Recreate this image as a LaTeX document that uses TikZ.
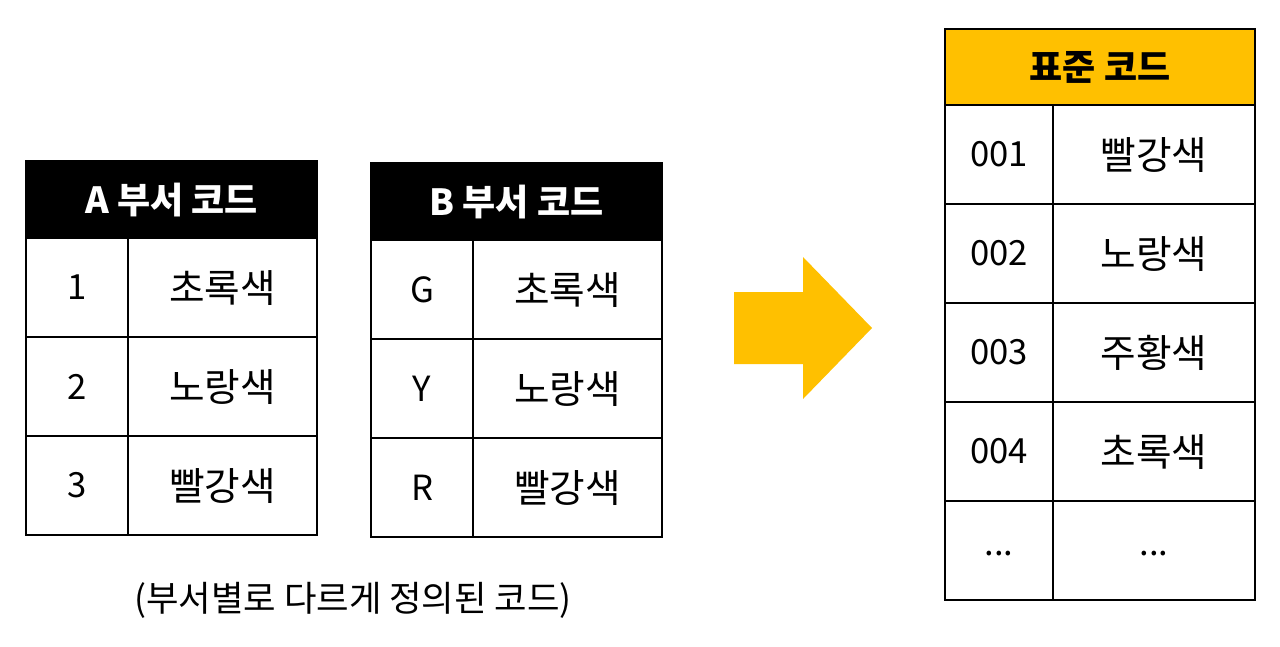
\documentclass[tikz,border=0pt]{standalone}
\usepackage{fontspec}
\setmainfont{Noto Sans CJK KR}
\definecolor{stdyellow}{HTML}{FFC000}
\begin{document}
\begin{tikzpicture}[x=0.75pt,y=-0.75pt]
\tikzstyle{cell}=[draw,line width=1.6pt,inner sep=0pt,anchor=north west,minimum height=74.25pt,font=\fontsize{26}{30}\selectfont]
\tikzstyle{colorcell}=[cell,font=\fontsize{29}{32}\selectfont]
\tikzstyle{head}=[cell,minimum height=57.75pt,fill=black,text=white,font=\fontsize{27}{30}\selectfont\bfseries]
\useasboundingbox (0,0) rectangle (1280,646);
% A table
\node[head,minimum width=218.25pt](ahead) at (25,160) {A 부서 코드};
\node[cell,minimum width=76.5pt](a1) at (25,237) {1};
\node[colorcell,minimum width=141.75pt](a1c) at (127,237) {초록색};
\node[cell,minimum width=76.5pt](a2) at (25,336) {2};
\node[colorcell,minimum width=141.75pt](a2c) at (127,336) {노랑색};
\node[cell,minimum width=76.5pt](a3) at (25,435) {3};
\node[colorcell,minimum width=141.75pt](a3c) at (127,435) {빨강색};
% B table
\node[head,minimum width=218.25pt](bhead) at (370,162) {B 부서 코드};
\node[cell,minimum width=76.5pt](b1) at (370,239) {G};
\node[colorcell,minimum width=141.75pt](b1c) at (472,239) {초록색};
\node[cell,minimum width=76.5pt](b2) at (370,338) {Y};
\node[colorcell,minimum width=141.75pt](b2c) at (472,338) {노랑색};
\node[cell,minimum width=76.5pt](b3) at (370,437) {R};
\node[colorcell,minimum width=141.75pt](b3c) at (472,437) {빨강색};
\node[font=\fontsize{26.5}{30}\selectfont](note) at (353,600) {(부서별로 다르게 정의된 코드)};
% arrow
\fill[stdyellow] (734,292) -- (803,292) -- (803,257) -- (872,328) -- (803,399) -- (803,364) -- (734,364) -- cycle;
% standard table
\node[head,minimum width=232.5pt,fill=stdyellow,text=black,minimum height=57pt](shead) at (944,28) {표준 코드};
\node[cell,minimum width=81pt](s1) at (944,104) {001};
\node[colorcell,minimum width=151.5pt](s1c) at (1052,104) {빨강색};
\node[cell,minimum width=81pt](s2) at (944,203) {002};
\node[colorcell,minimum width=151.5pt](s2c) at (1052,203) {노랑색};
\node[cell,minimum width=81pt](s3) at (944,302) {003};
\node[colorcell,minimum width=151.5pt](s3c) at (1052,302) {주황색};
\node[cell,minimum width=81pt](s4) at (944,401) {004};
\node[colorcell,minimum width=151.5pt](s4c) at (1052,401) {초록색};
\node[cell,minimum width=81pt](s5) at (944,500) {\raisebox{-7pt}{...}};
\node[cell,minimum width=151.5pt](s5c) at (1052,500) {\raisebox{-7pt}{...}};
\end{tikzpicture}
\end{document}
